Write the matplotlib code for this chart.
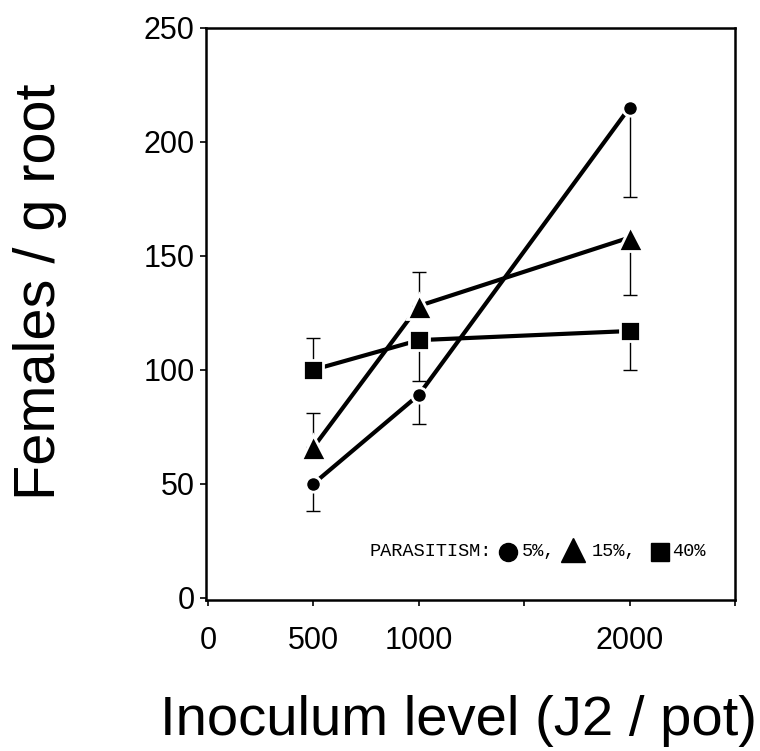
import numpy as np
import matplotlib
matplotlib.use("Agg")
import matplotlib.pyplot as plt

# inoculum levels (J2 / pot)
inoculo = [500, 1000, 2000]

# females / g root for each parasitism level
hembras_5 = [50, 89, 215]
hembras_15 = [66, 128, 158]
hembras_40 = [100, 113, 117]

# error bars (below, above)
err_5 = [[12, 13, 39], [0, 0, 0]]
err_15 = [[0, 0, 25], [15, 15, 0]]
err_40 = [[0, 18, 17], [14, 0, 0]]

xticks = [0, 500, 1000, 1500, 2000, 2500]
xtick_labels = ["0", "500", "1000", "", "2000", ""]
yticks = [0, 50, 100, 150, 200, 250]

sans = ["Liberation Sans", "DejaVu Sans"]
mono = ["Liberation Mono", "DejaVu Sans Mono"]

def graficar_serie(ax, y, err, marcador, ms):
    ax.errorbar(inoculo, y, yerr=err, fmt="none", ecolor="black",
                elinewidth=1.0, capsize=5, capthick=1.0, zorder=2)
    ax.plot(inoculo, y, color="black", lw=3.0, marker=marcador, ms=ms,
            mfc="black", mec="white", mew=2.0, zorder=3)

def leyenda(ax):
    yl = 0.084
    ax.text(0.309, yl, "PARASITISM:", transform=ax.transAxes, family=mono,
            fontsize=13.4, va="center", ha="left")
    ax.plot([0.571], [yl], "o", ms=13, color="black", transform=ax.transAxes, clip_on=False)
    ax.text(0.597, yl, "5%,", transform=ax.transAxes, family=mono,
            fontsize=13.4, va="center", ha="left")
    ax.plot([0.694], [yl + 0.004], "^", ms=17, color="black", transform=ax.transAxes, clip_on=False)
    ax.text(0.730, yl, "15%,", transform=ax.transAxes, family=mono,
            fontsize=13.4, va="center", ha="left")
    ax.plot([0.858], [yl], "s", ms=13, color="black", transform=ax.transAxes, clip_on=False)
    ax.text(0.881, yl, "40%", transform=ax.transAxes, family=mono,
            fontsize=13.4, va="center", ha="left")

def main():
    fig = plt.figure(figsize=(7.60, 7.51), dpi=100)
    ax = fig.add_axes([0.271, 0.201, 0.696, 0.762])

    graficar_serie(ax, hembras_5, err_5, "o", 11)
    graficar_serie(ax, hembras_15, err_15, "^", 18)
    graficar_serie(ax, hembras_40, err_40, "s", 15)

    ax.set_xlim(-10, 2500)
    ax.set_ylim(-1, 250)
    ax.set_xticks(xticks)
    ax.set_xticklabels(xtick_labels)
    ax.set_yticks(yticks)
    for lab in ax.get_xticklabels() + ax.get_yticklabels():
        lab.set_family(sans)
        lab.set_fontsize(22)
    ax.tick_params(direction="out", length=4, width=1.2)
    ax.tick_params(axis="x", pad=15)
    ax.tick_params(axis="y", pad=4)
    for s in ax.spines.values():
        s.set_linewidth(1.8)

    fig.text(0.603, 0.021, "Inoculum level (J2 / pot)", family=sans,
             fontsize=40.5, ha="center", va="baseline")
    fig.text(0.052, 0.611, "Females / g root", family=sans, fontsize=41.5,
             rotation=90, ha="center", va="center")

    leyenda(ax)

    fig.savefig("out.png", dpi=100)

main()
